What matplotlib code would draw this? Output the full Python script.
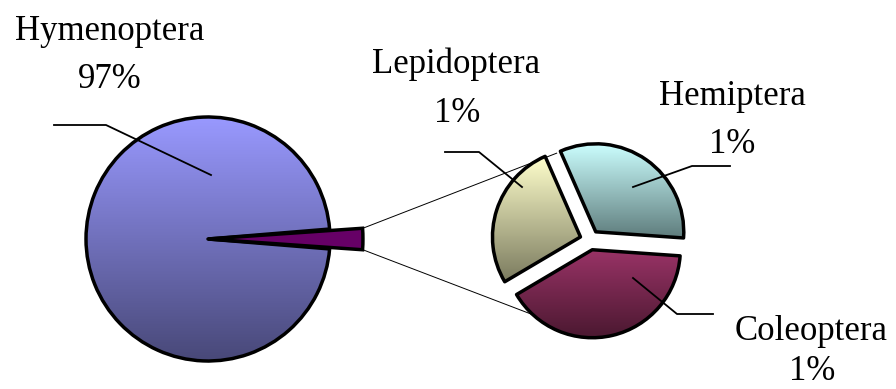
import numpy as np
import matplotlib
matplotlib.use("Agg")
import matplotlib.pyplot as plt
from matplotlib.patches import Wedge
from matplotlib.colors import LinearSegmentedColormap

# ---- data ----
main_label = "Hymenoptera"
main_value = 97.4
other_labels = ["Hemiptera", "Lepidoptera", "Coleoptera"]
other_values = [0.85, 0.70, 1.05]
pct_labels = ["97%", "1%", "1%", "1%"]  # Hym, Hem, Lep, Col

# ---- style ----
main_top, main_bot = "#9999FF", "#484878"
other_tops = ["#CCFFFF", "#FFFFCC", "#993366"]
other_bots = ["#5E7C7C", "#7A7A5E", "#4A1830"]
other_wedge_color = "#660066"

W, H = 896, 389
fig = plt.figure(figsize=(W / 100, H / 100), dpi=100)
ax = fig.add_axes([0, 0, 1, 1])
ax.set_xlim(0, W)
ax.set_ylim(0, H)
ax.axis("off")

font = dict(family=["Liberation Serif", "DejaVu Serif"], fontsize=25, color="black")


def grad_wedge(center, r, t1, t2, top, bot, z=2):
    w = Wedge(center, r, t1, t2, facecolor="none", edgecolor="black", lw=2.5, zorder=z + 1,
              joinstyle="round")
    ax.add_patch(w)
    ext = w.get_path().get_extents()
    cmap = LinearSegmentedColormap.from_list("g", [bot, top])
    g = np.linspace(0, 1, 256).reshape(-1, 1)
    im = ax.imshow(g, cmap=cmap, origin="lower", aspect="auto",
                   extent=[ext.x0, ext.x1, ext.y0, ext.y1], zorder=z, interpolation="bilinear")
    im.set_clip_path(w)
    return w


# ---- main pie ----
total = main_value + sum(other_values)
other_frac = sum(other_values) / total
half = other_frac * 180.0
c1 = (208, 150)
r1 = 122
grad_wedge(c1, r1, half, 360 - half, main_top, main_bot)
# "other" wedge extends outward
r_other = r1 * 1.27
hh = half * 0.85
ow = Wedge(c1, r_other, -hh, hh, facecolor=other_wedge_color,
           edgecolor="black", lw=2.5, zorder=4)
ax.add_patch(ow)

# ---- secondary pie ----
c2 = (590, 149)
r2 = 88
explode = 10
start = -4.0
osum = sum(other_values)
angles = []
a = start
for v in other_values:
    span = v / osum * 360.0
    angles.append((a, a + span))
    a += span
for (t1, t2), top, bot in zip(angles, other_tops, other_bots):
    mid = np.deg2rad((t1 + t2) / 2)
    cc = (c2[0] + explode * np.cos(mid), c2[1] + explode * np.sin(mid))
    grad_wedge(cc, r2, t1, t2, top, bot)

# ---- connector lines between pies ----
def polar(c, r, deg):
    return (c[0] + r * np.cos(np.deg2rad(deg)), c[1] + r * np.sin(np.deg2rad(deg)))

p_top = polar(c1, r_other / np.cos(np.deg2rad(hh)), hh)
p_bot = polar(c1, r_other / np.cos(np.deg2rad(hh)), -hh)
q_top = polar(c2, r2 + 5, 111)
q_bot = polar(c2, r2 + 5, 235)
ax.plot([p_top[0], q_top[0]], [p_top[1], q_top[1]], color="black", lw=0.7, zorder=1)
ax.plot([p_bot[0], q_bot[0]], [p_bot[1], q_bot[1]], color="black", lw=0.7, zorder=1)

# ---- labels and leader lines ----
def leader(xs, ys):
    ax.plot(xs, [H - y for y in ys], color="black", lw=1.3, zorder=6)

ax.text(110, H - 40, main_label, ha="center", va="baseline", **font)
ax.text(110, H - 88, pct_labels[0], ha="center", va="baseline", **font)
leader([54, 106, 211], [125, 125, 175])

ax.text(456, H - 73, other_labels[1], ha="center", va="baseline", **font)
ax.text(457, H - 122, pct_labels[2], ha="center", va="baseline", **font)
leader([445, 479, 522], [152, 152, 187])

ax.text(732, H - 105, other_labels[0], ha="center", va="baseline", **font)
ax.text(732, H - 153, pct_labels[1], ha="center", va="baseline", **font)
leader([633, 692, 730], [187, 166, 166])

ax.text(811, H - 340, other_labels[2], ha="center", va="baseline", **font)
ax.text(812, H - 380, pct_labels[3], ha="center", va="baseline", **font)
leader([633, 677, 713], [278, 314, 314])

fig.savefig("out.png", dpi=100)
